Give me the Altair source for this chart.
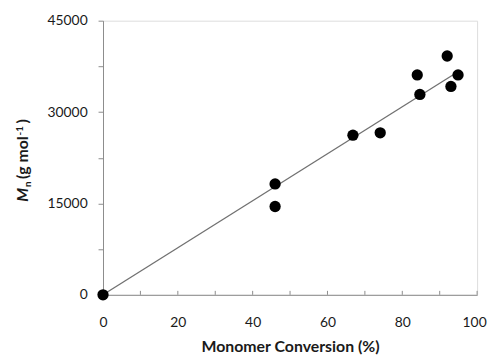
import altair as alt
import pandas as pd

conversion = [0, 46, 46, 66.8, 74.1, 84.0, 84.7, 92.0, 93.0, 94.9]
mn = [0, 18200, 14500, 26200, 26600, 36100, 32900, 39200, 34200, 36100]

fit_x = [0, 95]
fit_y = [0, 36650]

x_ticks = [0, 10, 20, 30, 40, 50, 60, 70, 80, 90, 100]
y_ticks = [0, 7500, 15000, 22500, 30000, 37500, 45000]

# y-axis title pieces
title_parts = ["M", "n", "(g mol", "-1", ")"]

pts = pd.DataFrame({"x": conversion, "y": mn})
fit = pd.DataFrame({"x": fit_x, "y": fit_y})
xt = pd.DataFrame({"x": x_ticks})

FONT = "Lato"
AX = "#8c8c8c"
TXT = "#1a1a1a"

xscale = alt.Scale(domain=[0, 100], nice=False, zero=False)
yscale = alt.Scale(domain=[0, 45000], nice=False)

xaxis = alt.Axis(values=x_ticks, labelExpr="datum.value % 20 == 0 ? datum.label : ''",
                 title="Monomer Conversion (%)", grid=False, ticks=False, labelFlush=False,
                 labelOffset={"condition": {"test": "datum.value == 100", "value": -3}, "value": 0},
                 domainColor=AX, labelFont=FONT, labelFontSize=14, labelColor=TXT,
                 labelPadding=21, titleFont=FONT, titleFontSize=16, titleFontWeight="bold",
                 titleColor=TXT, titlePadding=9)
yaxis = alt.Axis(values=y_ticks, labelExpr="datum.value % 15000 == 0 ? format(datum.value, 'd') : ''",
                 title=None, grid=False, tickSize=5, tickColor=AX, labelFlush=False,
                 domainColor=AX, labelFont=FONT, labelFontSize=14, labelColor=TXT,
                 labelPadding=11)

line = alt.Chart(fit).mark_line(color="#707070", strokeWidth=1.3).encode(
    x=alt.X("x:Q", scale=xscale, axis=xaxis),
    y=alt.Y("y:Q", scale=yscale, axis=yaxis),
)

ticks = alt.Chart(xt).mark_rule(color=AX, strokeWidth=1).encode(
    x=alt.X("x:Q", scale=xscale),
    y=alt.value(277),
    y2=alt.value(273),
)

points = alt.Chart(pts).mark_circle(size=130, color="black", opacity=1).encode(
    x=alt.X("x:Q", scale=xscale),
    y=alt.Y("y:Q", scale=yscale),
)

def ttl(text, x, y, size, italic=False):
    return alt.Chart(pd.DataFrame({"t": [text]})).mark_text(
        angle=270, align="left", baseline="alphabetic", font=FONT, fontSize=size,
        fontWeight="bold", fontStyle="italic" if italic else "normal", color=TXT,
    ).encode(text="t:N", x=alt.value(x), y=alt.value(y))

ytitle = [
    ttl(title_parts[0], -76, 183, 16, italic=True),
    ttl(title_parts[1], -73, 168, 10),
    ttl(title_parts[2], -76, 160, 16),
    ttl(title_parts[3], -81, 116, 10),
    ttl(title_parts[4], -76, 104, 16),
]

chart = alt.layer(ticks, line, points, *ytitle).properties(
    width=378, height=277,
    autosize=alt.AutoSizeParams(type="none"),
    padding={"left": 96, "top": 11, "right": 11, "bottom": 60},
).configure_view(stroke=None).configure(background="white")

chart.save("out.html", embed_options={"renderer": "svg", "actions": False})
